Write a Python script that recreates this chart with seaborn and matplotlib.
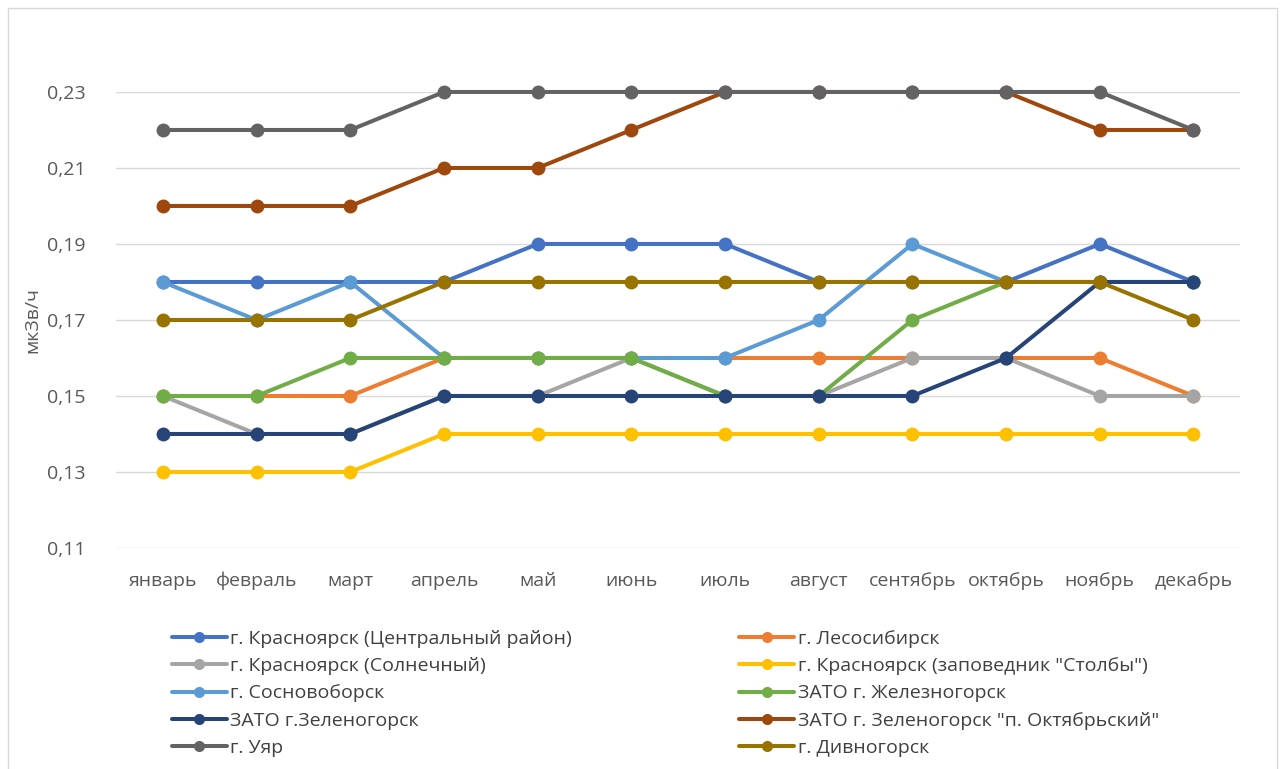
import matplotlib
matplotlib.use("Agg")
import matplotlib.pyplot as plt
import seaborn as sns
import pandas as pd
from matplotlib.patches import Rectangle

months = ["январь", "февраль", "март", "апрель", "май", "июнь",
          "июль", "август", "сентябрь", "октябрь", "ноябрь", "декабрь"]

names = [
    "г. Красноярск (Центральный район)",
    "г. Лесосибирск",
    "г. Красноярск (Солнечный)",
    'г. Красноярск (заповедник "Столбы")',
    "г. Сосновоборск",
    "ЗАТО г. Железногорск",
    "ЗАТО г.Зеленогорск",
    'ЗАТО г. Зеленогорск "п. Октябрьский"',
    "г. Уяр",
    "г. Дивногорск",
]

krasnoyarsk_center = [0.18, 0.18, 0.18, 0.18, 0.19, 0.19, 0.19, 0.18, 0.18, 0.18, 0.19, 0.18]
lesosibirsk = [0.15, 0.15, 0.15, 0.16, 0.16, 0.16, 0.16, 0.16, 0.16, 0.16, 0.16, 0.15]
krasnoyarsk_solnechny = [0.15, 0.14, 0.14, 0.15, 0.15, 0.16, 0.15, 0.15, 0.16, 0.16, 0.15, 0.15]
krasnoyarsk_stolby = [0.13, 0.13, 0.13, 0.14, 0.14, 0.14, 0.14, 0.14, 0.14, 0.14, 0.14, 0.14]
sosnovoborsk = [0.18, 0.17, 0.18, 0.16, 0.16, 0.16, 0.16, 0.17, 0.19, 0.18, 0.18, 0.18]
zheleznogorsk = [0.15, 0.15, 0.16, 0.16, 0.16, 0.16, 0.15, 0.15, 0.17, 0.18, 0.18, 0.18]
zelenogorsk = [0.14, 0.14, 0.14, 0.15, 0.15, 0.15, 0.15, 0.15, 0.15, 0.16, 0.18, 0.18]
oktyabrsky = [0.20, 0.20, 0.20, 0.21, 0.21, 0.22, 0.23, 0.23, 0.23, 0.23, 0.22, 0.22]
uyar = [0.22, 0.22, 0.22, 0.23, 0.23, 0.23, 0.23, 0.23, 0.23, 0.23, 0.23, 0.22]
divnogorsk = [0.17, 0.17, 0.17, 0.18, 0.18, 0.18, 0.18, 0.18, 0.18, 0.18, 0.18, 0.17]

series = [krasnoyarsk_center, lesosibirsk, krasnoyarsk_solnechny, krasnoyarsk_stolby,
          sosnovoborsk, zheleznogorsk, zelenogorsk, oktyabrsky, uyar, divnogorsk]

colors = ["#4472C4", "#ED7D31", "#A5A5A5", "#FFC000", "#5B9BD5",
          "#70AD47", "#264478", "#9E480E", "#636363", "#997300"]

rows = []
for name, vals in zip(names, series):
    for i, v in enumerate(vals):
        rows.append({"pos": i, "series": name, "value": v})
df = pd.DataFrame(rows)

sns.set_style("white")
plt.rcParams["font.family"] = ["Open Sans", "DejaVu Sans"]

fig = plt.figure(figsize=(12.82, 7.69), dpi=100)
ax = fig.add_axes([0.0905, 0.2874, 0.877, 0.593])

sns.lineplot(data=df, x="pos", y="value", hue="series", hue_order=names,
             palette=colors, marker="o", markersize=10, markeredgewidth=0,
             linewidth=2.9, ax=ax, legend=True)

for line in ax.lines:
    line.set_clip_on(False)

ax.set_xlim(-0.5, len(months) - 0.5)
ax.set_ylim(0.11, 0.23)
ax.set_yticks([0.11, 0.13, 0.15, 0.17, 0.19, 0.21, 0.23])
ax.set_yticklabels(["0,11", "0,13", "0,15", "0,17", "0,19", "0,21", "0,23"])
ax.set_xticks(range(len(months)))
ax.set_xticklabels(months)
ax.tick_params(axis="both", labelsize=14, colors="#595959", length=0)
ax.tick_params(axis="x", pad=17)
ax.tick_params(axis="y", pad=22)
ax.yaxis.grid(True, color="#D9D9D9", linewidth=1)
ax.set_axisbelow(True)
for s in ax.spines.values():
    s.set_visible(False)
ax.set_xlabel("")
ax.set_ylabel("мкЗв/ч", fontsize=14, color="#595959", labelpad=4)

handles, labels = ax.get_legend_handles_labels()
for h in handles:
    h.set_markersize(8)
order = [0, 2, 4, 6, 8, 1, 3, 5, 7, 9]
ax.legend([handles[i] for i in order], [labels[i] for i in order],
          ncol=2, loc="upper left", bbox_to_anchor=(0.043, -0.163),
          frameon=False, fontsize=14, labelcolor="#404040",
          handlelength=2.8, handletextpad=0.2, columnspacing=8.6,
          labelspacing=0.47, borderaxespad=0)

fig.patches.append(Rectangle((0.006, -0.01), 0.99, 1.0, transform=fig.transFigure,
                             fill=False, edgecolor="#D9D9D9", linewidth=1))

fig.savefig("out.png", dpi=100)
